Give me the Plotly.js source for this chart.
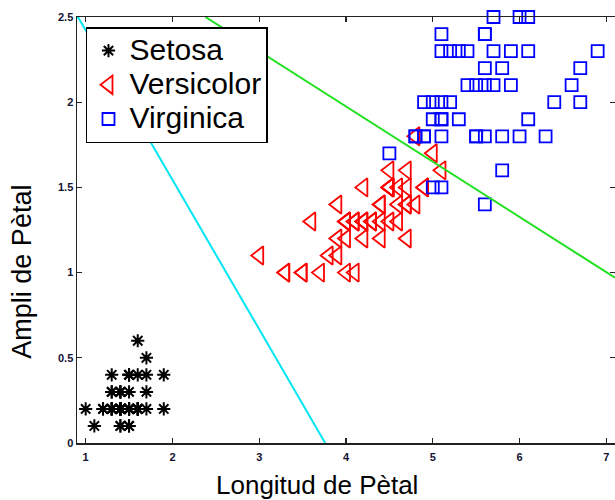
<!DOCTYPE html>
<html>
<head>
<meta charset="utf-8">
<script src="https://cdn.plot.ly/plotly-3.0.1.min.js"></script>
<style>html,body{margin:0;padding:0;background:#fff;}#chart{width:615px;height:500px;}</style>
</head>
<body>
<div id="chart"></div>
<script>
// Petal length / width (Iris)
const setosaLen = [1.4,1.4,1.3,1.5,1.4,1.7,1.4,1.5,1.4,1.5,1.5,1.6,1.4,1.1,1.2,1.5,1.3,1.4,1.7,1.5,1.7,1.5,1.0,1.7,1.9,1.6,1.6,1.5,1.4,1.6,1.6,1.5,1.5,1.4,1.5,1.2,1.3,1.4,1.3,1.5,1.3,1.3,1.3,1.6,1.9,1.4,1.6,1.4,1.5,1.4];
const setosaWid = [0.2,0.2,0.2,0.2,0.2,0.4,0.3,0.2,0.2,0.1,0.2,0.2,0.1,0.1,0.2,0.4,0.4,0.3,0.3,0.3,0.2,0.4,0.2,0.5,0.2,0.2,0.4,0.2,0.2,0.2,0.2,0.4,0.1,0.2,0.2,0.2,0.2,0.1,0.2,0.2,0.3,0.3,0.2,0.6,0.4,0.3,0.2,0.2,0.2,0.2];
const versiLen = [4.7,4.5,4.9,4.0,4.6,4.5,4.7,3.3,4.6,3.9,3.5,4.2,4.0,4.7,3.6,4.4,4.5,4.1,4.5,3.9,4.8,4.0,4.9,4.7,4.3,4.4,4.8,5.0,4.5,3.5,3.8,3.7,3.9,5.1,4.5,4.5,4.7,4.4,4.1,4.0,4.4,4.6,4.0,3.3,4.2,4.2,4.2,4.3,3.0,4.1];
const versiWid = [1.4,1.5,1.5,1.3,1.5,1.3,1.6,1.0,1.3,1.4,1.0,1.5,1.0,1.4,1.3,1.4,1.5,1.0,1.5,1.1,1.8,1.3,1.5,1.2,1.3,1.4,1.4,1.7,1.5,1.0,1.1,1.0,1.2,1.6,1.5,1.6,1.5,1.3,1.3,1.3,1.2,1.4,1.2,1.0,1.3,1.2,1.3,1.3,1.1,1.3];
const virgLen = [6.0,5.1,5.9,5.6,5.8,6.6,4.5,6.3,5.8,6.1,5.1,5.3,5.5,5.0,5.1,5.3,5.5,6.7,6.9,5.0,5.7,4.9,6.7,4.9,5.7,6.0,4.8,4.9,5.6,5.8,6.1,6.4,5.6,5.1,5.6,6.1,5.6,5.5,4.8,5.4,5.6,5.1,5.1,5.9,5.7,5.2,5.0,5.2,5.4,5.1];
const virgWid = [2.5,1.9,2.1,1.8,2.2,2.1,1.7,1.8,1.8,2.5,2.0,1.9,2.1,2.0,2.4,2.3,1.8,2.2,2.3,1.5,2.3,2.0,2.0,1.8,2.1,1.8,1.8,1.8,2.1,1.6,1.9,2.0,2.2,1.5,1.4,2.3,2.4,1.8,1.8,2.1,2.4,2.3,1.9,2.3,2.5,2.3,1.9,2.0,2.3,1.8];

// Separating lines (end points)
const cyanX = [0.9, 3.76];
const cyanY = [2.51, 0];
const greenX = [2.38, 7.1];
const greenY = [2.5, 0.97];

const seriesNames = ['Setosa', 'Versicolor', 'Virginica'];
const xTicks = [1,2,3,4,5,6,7];
const yTicks = [0,0.5,1,1.5,2,2.5];
const xTitle = 'Longitud de Pètal';
const yTitle = 'Ampli de Pètal';

const FONT = 'Liberation Sans, Arial, sans-serif';
const bigName = n => '<span style="font-size:30px">' + n + '</span>';

const traces = [
  {x: setosaLen, y: setosaWid, name: bigName(seriesNames[0]), type: 'scatter', mode: 'markers', cliponaxis: false,
   marker: {symbol: 'asterisk-open', size: 11, color: '#000', line: {width: 2, color: '#000'}}},
  {x: versiLen, y: versiWid, name: bigName(seriesNames[1]), type: 'scatter', mode: 'markers', cliponaxis: false,
   marker: {symbol: 'triangle-left-open', size: 16, color: '#ff0000', line: {width: 1.8, color: '#ff0000'}}},
  {x: virgLen, y: virgWid, name: bigName(seriesNames[2]), type: 'scatter', mode: 'markers', cliponaxis: false,
   marker: {symbol: 'square-open', size: 12, color: '#0000ff', line: {width: 1.8, color: '#0000ff'}}},
  {x: cyanX, y: cyanY, type: 'scatter', mode: 'lines', showlegend: false, hoverinfo: 'skip',
   line: {color: '#00e6f2', width: 2}},
  {x: greenX, y: greenY, type: 'scatter', mode: 'lines', showlegend: false, hoverinfo: 'skip',
   line: {color: '#1ee01e', width: 2}}
];

const axisCommon = {
  showline: true, linecolor: '#222', linewidth: 1.5, mirror: 'ticks',
  ticks: 'inside', ticklen: 5, tickwidth: 1.2, tickcolor: '#222',
  showgrid: false, zeroline: false,
  tickfont: {family: FONT, size: 11, color: '#111133', weight: 'bold'}
};

const layout = {
  width: 615, height: 500,
  margin: {l: 77, r: 0, t: 17, b: 57},
  paper_bgcolor: '#fff', plot_bgcolor: '#fff',
  font: {family: FONT},
  showlegend: true,
  legend: {
    x: 0.0167, y: 0.9765, xanchor: 'left', yanchor: 'top',
    bgcolor: '#fff', bordercolor: '#000', borderwidth: 1.5,
    itemwidth: 32,
    font: {family: FONT, size: 24, color: '#000'}
  },
  xaxis: Object.assign({}, axisCommon, {range: [0.9, 7.1], tickvals: xTicks, ticklabelstandoff: 3}),
  yaxis: Object.assign({}, axisCommon, {range: [0, 2.5], tickvals: yTicks}),
  annotations: [
    {text: xTitle, xref: 'paper', yref: 'paper', x: 0.447, y: -0.0986, xanchor: 'center', yanchor: 'middle',
     showarrow: false, font: {family: FONT, size: 26, color: '#000'}},
    {text: yTitle, xref: 'paper', yref: 'paper', x: -0.1013, y: 0.401, xanchor: 'center', yanchor: 'middle',
     textangle: -90, showarrow: false, font: {family: FONT, size: 27, color: '#000'}}
  ]
};

Plotly.newPlot('chart', traces, layout, {displayModeBar: false, staticPlot: true});
</script>
</body>
</html>
